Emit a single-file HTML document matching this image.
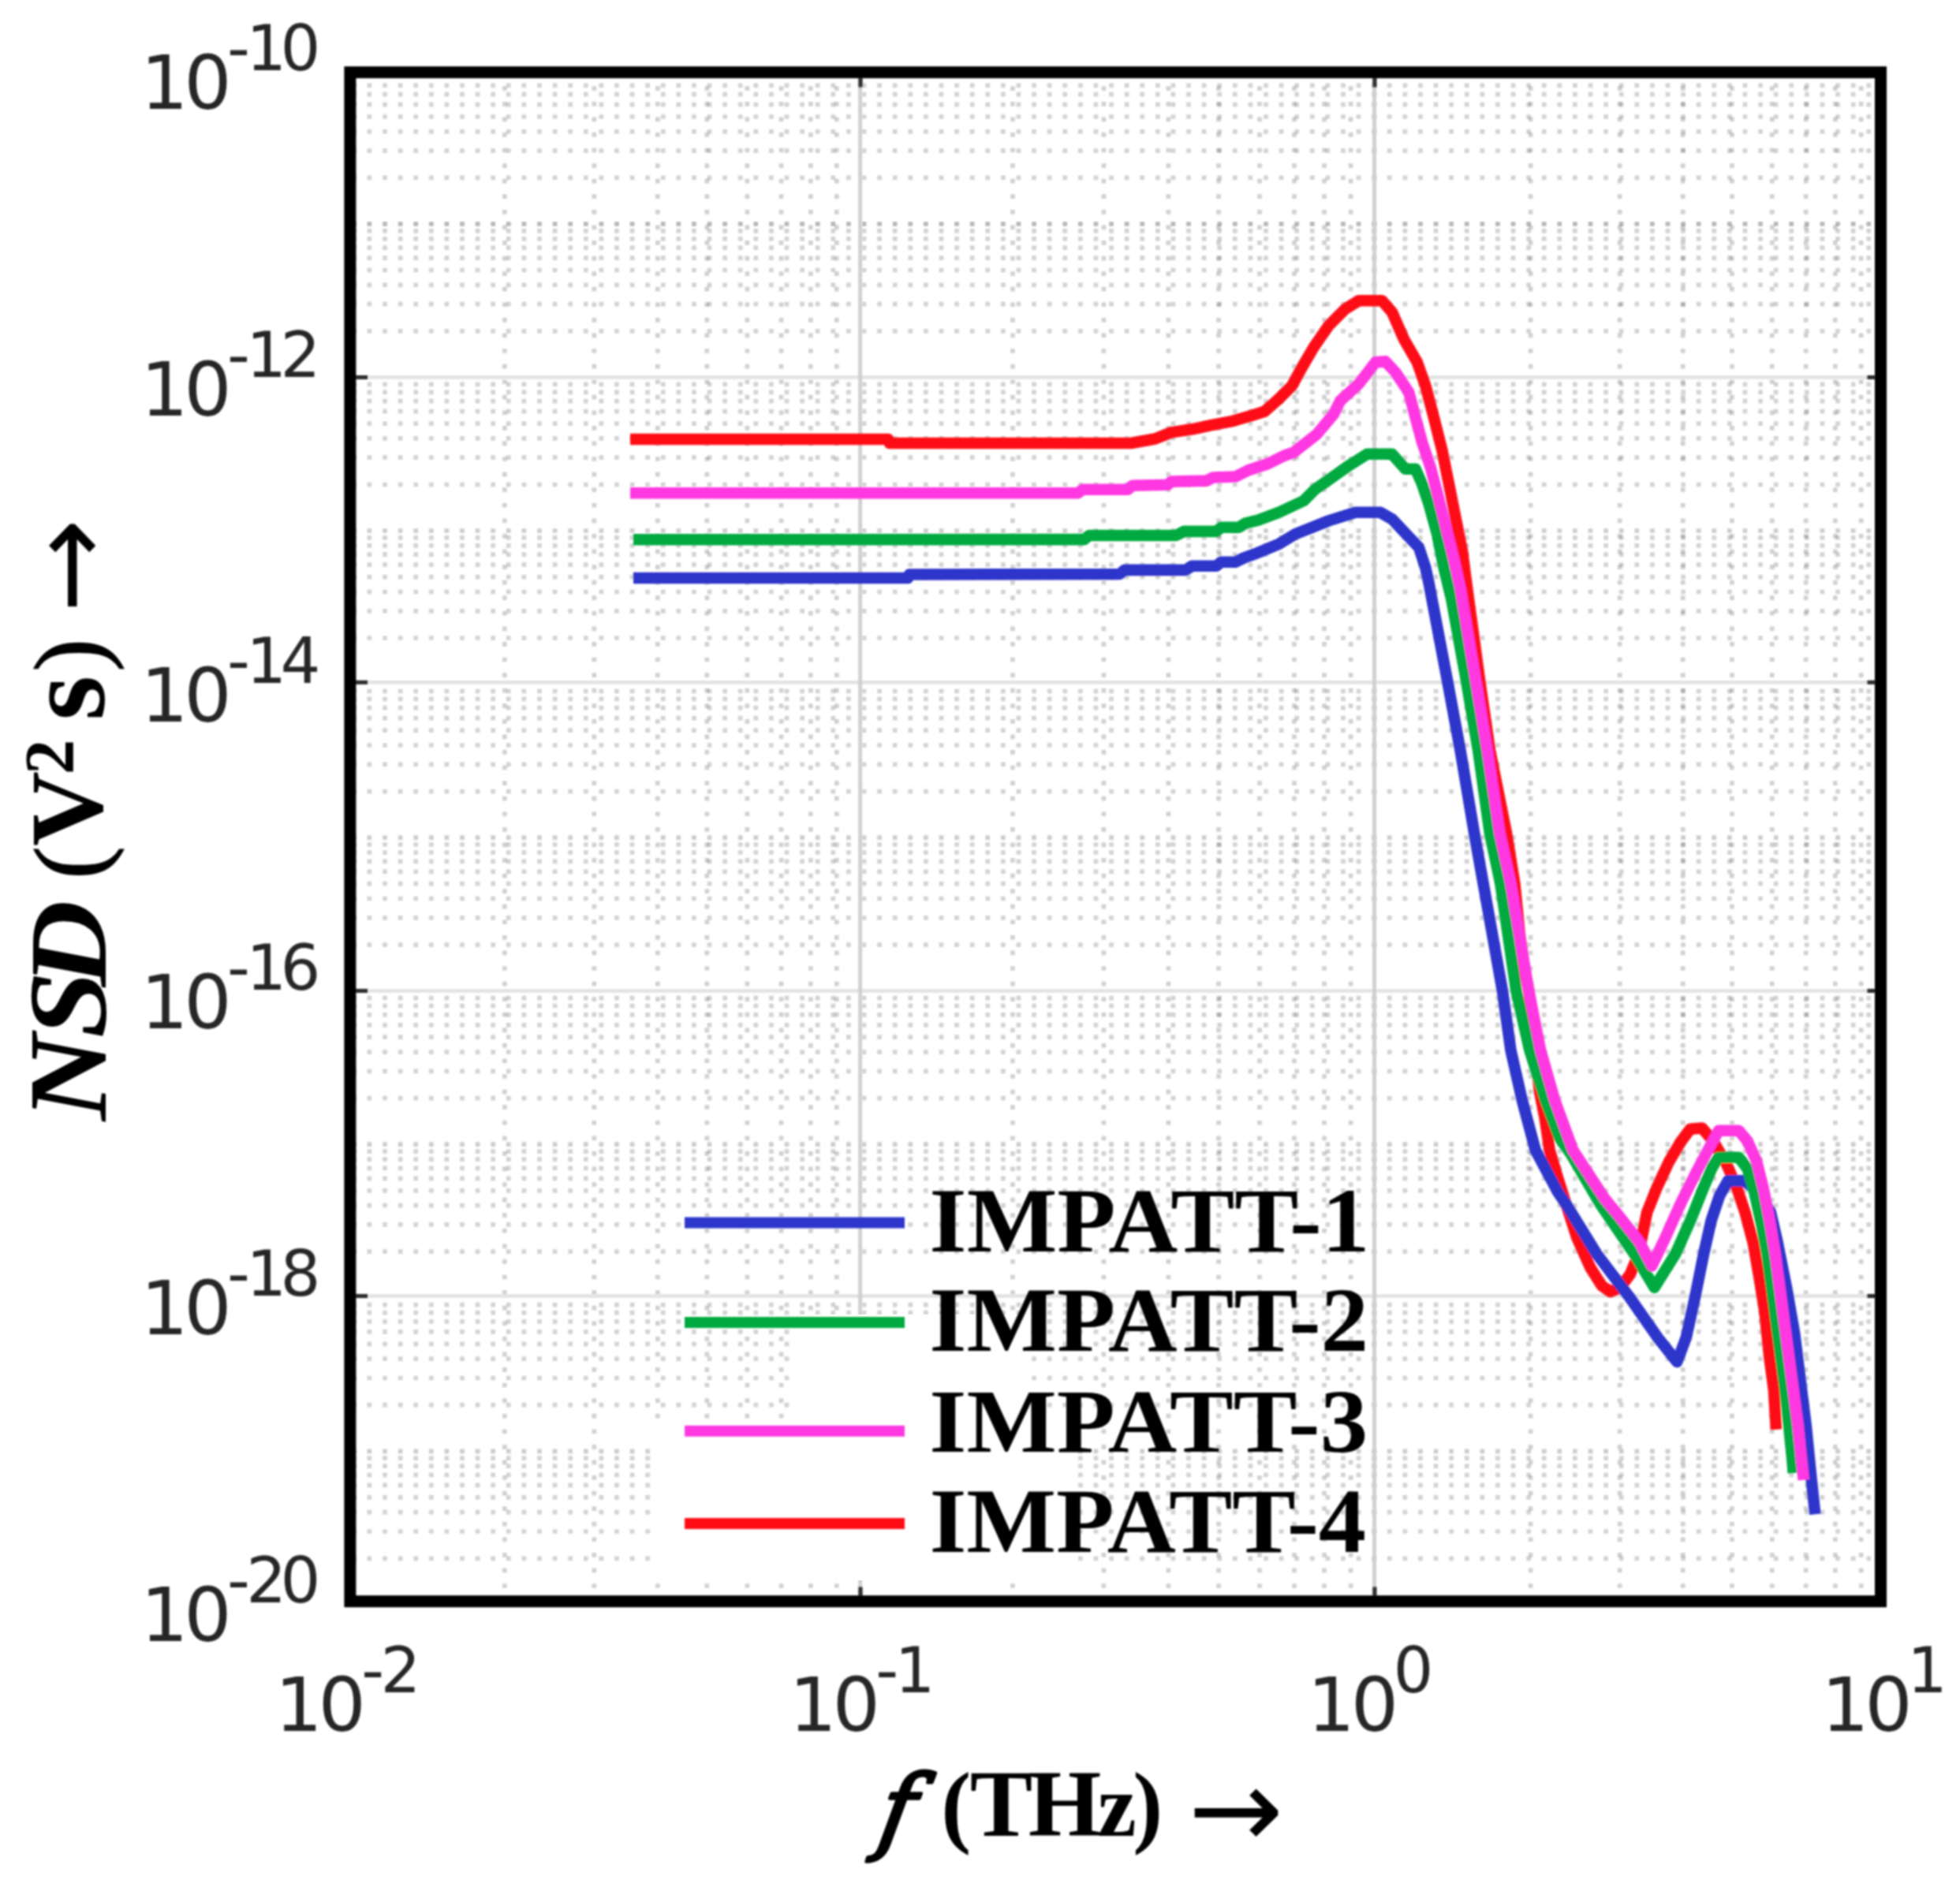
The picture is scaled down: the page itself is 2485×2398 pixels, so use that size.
<!DOCTYPE html>
<html lang="en"><head><meta charset="utf-8"><title>NSD vs f</title>
<style>html,body{margin:0;padding:0;background:#fff}svg{display:block}.tk{font-family:"DejaVu Sans","Liberation Sans",sans-serif;fill:#262626}.sb{font-family:"Liberation Serif",serif;font-weight:bold;fill:#000}.sbi{font-family:"Liberation Serif",serif;font-weight:bold;font-style:italic;fill:#000}.ar{font-family:"DejaVu Sans",sans-serif;fill:#000}.sr{font-family:"Liberation Serif",serif;fill:#000}.fi{font-family:"DejaVu Serif","Liberation Serif",serif;font-style:italic;fill:#000}.fbi{font-family:"DejaVu Serif","Liberation Serif",serif;font-weight:bold;font-style:italic;fill:#000}</style></head><body>
<svg width="2485" height="2398" viewBox="0 0 2485 2398" role="img" aria-label="NSD versus frequency for IMPATT-1 to IMPATT-4">
<defs><filter id="b1" x="-5%" y="-5%" width="110%" height="110%"><feGaussianBlur stdDeviation="1.1"/></filter><filter id="b2" x="-5%" y="-5%" width="110%" height="110%"><feGaussianBlur stdDeviation="1.6"/></filter><clipPath id="pc"><rect x="443.9" y="91.7" width="1940.6" height="1939.0"/></clipPath></defs>
<rect width="2485" height="2398" fill="#fff"/>
<g clip-path="url(#pc)"><g filter="url(#b1)">
<line x1="426.36" y1="1976.3" x2="2384.5" y2="1976.3" stroke="#000" stroke-opacity="0.175" stroke-width="5.7" stroke-dasharray="5.7 13.896"/>
<line x1="426.36" y1="1942.0" x2="2384.5" y2="1942.0" stroke="#000" stroke-opacity="0.175" stroke-width="5.7" stroke-dasharray="5.7 13.896"/>
<line x1="426.36" y1="1917.7" x2="2384.5" y2="1917.7" stroke="#000" stroke-opacity="0.175" stroke-width="5.7" stroke-dasharray="5.7 13.896"/>
<line x1="426.36" y1="1898.8" x2="2384.5" y2="1898.8" stroke="#000" stroke-opacity="0.175" stroke-width="5.7" stroke-dasharray="5.7 13.896"/>
<line x1="426.36" y1="1883.4" x2="2384.5" y2="1883.4" stroke="#000" stroke-opacity="0.175" stroke-width="5.7" stroke-dasharray="5.7 13.896"/>
<line x1="426.36" y1="1870.4" x2="2384.5" y2="1870.4" stroke="#000" stroke-opacity="0.175" stroke-width="5.7" stroke-dasharray="5.7 13.896"/>
<line x1="426.36" y1="1859.1" x2="2384.5" y2="1859.1" stroke="#000" stroke-opacity="0.175" stroke-width="5.7" stroke-dasharray="5.7 13.896"/>
<line x1="426.36" y1="1849.2" x2="2384.5" y2="1849.2" stroke="#000" stroke-opacity="0.175" stroke-width="5.7" stroke-dasharray="5.7 13.896"/>
<line x1="426.36" y1="1840.3" x2="2384.5" y2="1840.3" stroke="#000" stroke-opacity="0.2" stroke-width="5.7" stroke-dasharray="5.7 13.896"/>
<line x1="426.36" y1="1781.7" x2="2384.5" y2="1781.7" stroke="#000" stroke-opacity="0.175" stroke-width="5.7" stroke-dasharray="5.7 13.896"/>
<line x1="426.36" y1="1747.5" x2="2384.5" y2="1747.5" stroke="#000" stroke-opacity="0.175" stroke-width="5.7" stroke-dasharray="5.7 13.896"/>
<line x1="426.36" y1="1723.2" x2="2384.5" y2="1723.2" stroke="#000" stroke-opacity="0.175" stroke-width="5.7" stroke-dasharray="5.7 13.896"/>
<line x1="426.36" y1="1704.3" x2="2384.5" y2="1704.3" stroke="#000" stroke-opacity="0.175" stroke-width="5.7" stroke-dasharray="5.7 13.896"/>
<line x1="426.36" y1="1688.9" x2="2384.5" y2="1688.9" stroke="#000" stroke-opacity="0.175" stroke-width="5.7" stroke-dasharray="5.7 13.896"/>
<line x1="426.36" y1="1675.9" x2="2384.5" y2="1675.9" stroke="#000" stroke-opacity="0.175" stroke-width="5.7" stroke-dasharray="5.7 13.896"/>
<line x1="426.36" y1="1664.6" x2="2384.5" y2="1664.6" stroke="#000" stroke-opacity="0.175" stroke-width="5.7" stroke-dasharray="5.7 13.896"/>
<line x1="426.36" y1="1654.6" x2="2384.5" y2="1654.6" stroke="#000" stroke-opacity="0.175" stroke-width="5.7" stroke-dasharray="5.7 13.896"/>
<line x1="426.36" y1="1587.2" x2="2384.5" y2="1587.2" stroke="#000" stroke-opacity="0.175" stroke-width="5.7" stroke-dasharray="5.7 13.896"/>
<line x1="426.36" y1="1552.9" x2="2384.5" y2="1552.9" stroke="#000" stroke-opacity="0.175" stroke-width="5.7" stroke-dasharray="5.7 13.896"/>
<line x1="426.36" y1="1528.6" x2="2384.5" y2="1528.6" stroke="#000" stroke-opacity="0.175" stroke-width="5.7" stroke-dasharray="5.7 13.896"/>
<line x1="426.36" y1="1509.8" x2="2384.5" y2="1509.8" stroke="#000" stroke-opacity="0.175" stroke-width="5.7" stroke-dasharray="5.7 13.896"/>
<line x1="426.36" y1="1494.4" x2="2384.5" y2="1494.4" stroke="#000" stroke-opacity="0.175" stroke-width="5.7" stroke-dasharray="5.7 13.896"/>
<line x1="426.36" y1="1481.3" x2="2384.5" y2="1481.3" stroke="#000" stroke-opacity="0.175" stroke-width="5.7" stroke-dasharray="5.7 13.896"/>
<line x1="426.36" y1="1470.1" x2="2384.5" y2="1470.1" stroke="#000" stroke-opacity="0.175" stroke-width="5.7" stroke-dasharray="5.7 13.896"/>
<line x1="426.36" y1="1460.1" x2="2384.5" y2="1460.1" stroke="#000" stroke-opacity="0.175" stroke-width="5.7" stroke-dasharray="5.7 13.896"/>
<line x1="426.36" y1="1451.2" x2="2384.5" y2="1451.2" stroke="#000" stroke-opacity="0.2" stroke-width="5.7" stroke-dasharray="5.7 13.896"/>
<line x1="426.36" y1="1392.6" x2="2384.5" y2="1392.6" stroke="#000" stroke-opacity="0.175" stroke-width="5.7" stroke-dasharray="5.7 13.896"/>
<line x1="426.36" y1="1358.4" x2="2384.5" y2="1358.4" stroke="#000" stroke-opacity="0.175" stroke-width="5.7" stroke-dasharray="5.7 13.896"/>
<line x1="426.36" y1="1334.1" x2="2384.5" y2="1334.1" stroke="#000" stroke-opacity="0.175" stroke-width="5.7" stroke-dasharray="5.7 13.896"/>
<line x1="426.36" y1="1315.2" x2="2384.5" y2="1315.2" stroke="#000" stroke-opacity="0.175" stroke-width="5.7" stroke-dasharray="5.7 13.896"/>
<line x1="426.36" y1="1299.8" x2="2384.5" y2="1299.8" stroke="#000" stroke-opacity="0.175" stroke-width="5.7" stroke-dasharray="5.7 13.896"/>
<line x1="426.36" y1="1286.8" x2="2384.5" y2="1286.8" stroke="#000" stroke-opacity="0.175" stroke-width="5.7" stroke-dasharray="5.7 13.896"/>
<line x1="426.36" y1="1275.5" x2="2384.5" y2="1275.5" stroke="#000" stroke-opacity="0.175" stroke-width="5.7" stroke-dasharray="5.7 13.896"/>
<line x1="426.36" y1="1265.6" x2="2384.5" y2="1265.6" stroke="#000" stroke-opacity="0.175" stroke-width="5.7" stroke-dasharray="5.7 13.896"/>
<line x1="426.36" y1="1198.1" x2="2384.5" y2="1198.1" stroke="#000" stroke-opacity="0.175" stroke-width="5.7" stroke-dasharray="5.7 13.896"/>
<line x1="426.36" y1="1163.8" x2="2384.5" y2="1163.8" stroke="#000" stroke-opacity="0.175" stroke-width="5.7" stroke-dasharray="5.7 13.896"/>
<line x1="426.36" y1="1139.5" x2="2384.5" y2="1139.5" stroke="#000" stroke-opacity="0.175" stroke-width="5.7" stroke-dasharray="5.7 13.896"/>
<line x1="426.36" y1="1120.7" x2="2384.5" y2="1120.7" stroke="#000" stroke-opacity="0.175" stroke-width="5.7" stroke-dasharray="5.7 13.896"/>
<line x1="426.36" y1="1105.3" x2="2384.5" y2="1105.3" stroke="#000" stroke-opacity="0.175" stroke-width="5.7" stroke-dasharray="5.7 13.896"/>
<line x1="426.36" y1="1092.3" x2="2384.5" y2="1092.3" stroke="#000" stroke-opacity="0.175" stroke-width="5.7" stroke-dasharray="5.7 13.896"/>
<line x1="426.36" y1="1081.0" x2="2384.5" y2="1081.0" stroke="#000" stroke-opacity="0.175" stroke-width="5.7" stroke-dasharray="5.7 13.896"/>
<line x1="426.36" y1="1071.0" x2="2384.5" y2="1071.0" stroke="#000" stroke-opacity="0.175" stroke-width="5.7" stroke-dasharray="5.7 13.896"/>
<line x1="426.36" y1="1062.1" x2="2384.5" y2="1062.1" stroke="#000" stroke-opacity="0.2" stroke-width="5.7" stroke-dasharray="5.7 13.896"/>
<line x1="426.36" y1="1003.6" x2="2384.5" y2="1003.6" stroke="#000" stroke-opacity="0.175" stroke-width="5.7" stroke-dasharray="5.7 13.896"/>
<line x1="426.36" y1="969.3" x2="2384.5" y2="969.3" stroke="#000" stroke-opacity="0.175" stroke-width="5.7" stroke-dasharray="5.7 13.896"/>
<line x1="426.36" y1="945.0" x2="2384.5" y2="945.0" stroke="#000" stroke-opacity="0.175" stroke-width="5.7" stroke-dasharray="5.7 13.896"/>
<line x1="426.36" y1="926.1" x2="2384.5" y2="926.1" stroke="#000" stroke-opacity="0.175" stroke-width="5.7" stroke-dasharray="5.7 13.896"/>
<line x1="426.36" y1="910.7" x2="2384.5" y2="910.7" stroke="#000" stroke-opacity="0.175" stroke-width="5.7" stroke-dasharray="5.7 13.896"/>
<line x1="426.36" y1="897.7" x2="2384.5" y2="897.7" stroke="#000" stroke-opacity="0.175" stroke-width="5.7" stroke-dasharray="5.7 13.896"/>
<line x1="426.36" y1="886.4" x2="2384.5" y2="886.4" stroke="#000" stroke-opacity="0.175" stroke-width="5.7" stroke-dasharray="5.7 13.896"/>
<line x1="426.36" y1="876.5" x2="2384.5" y2="876.5" stroke="#000" stroke-opacity="0.175" stroke-width="5.7" stroke-dasharray="5.7 13.896"/>
<line x1="426.36" y1="809.0" x2="2384.5" y2="809.0" stroke="#000" stroke-opacity="0.175" stroke-width="5.7" stroke-dasharray="5.7 13.896"/>
<line x1="426.36" y1="774.8" x2="2384.5" y2="774.8" stroke="#000" stroke-opacity="0.175" stroke-width="5.7" stroke-dasharray="5.7 13.896"/>
<line x1="426.36" y1="750.5" x2="2384.5" y2="750.5" stroke="#000" stroke-opacity="0.175" stroke-width="5.7" stroke-dasharray="5.7 13.896"/>
<line x1="426.36" y1="731.6" x2="2384.5" y2="731.6" stroke="#000" stroke-opacity="0.175" stroke-width="5.7" stroke-dasharray="5.7 13.896"/>
<line x1="426.36" y1="716.2" x2="2384.5" y2="716.2" stroke="#000" stroke-opacity="0.175" stroke-width="5.7" stroke-dasharray="5.7 13.896"/>
<line x1="426.36" y1="703.2" x2="2384.5" y2="703.2" stroke="#000" stroke-opacity="0.175" stroke-width="5.7" stroke-dasharray="5.7 13.896"/>
<line x1="426.36" y1="691.9" x2="2384.5" y2="691.9" stroke="#000" stroke-opacity="0.175" stroke-width="5.7" stroke-dasharray="5.7 13.896"/>
<line x1="426.36" y1="681.9" x2="2384.5" y2="681.9" stroke="#000" stroke-opacity="0.175" stroke-width="5.7" stroke-dasharray="5.7 13.896"/>
<line x1="426.36" y1="673.0" x2="2384.5" y2="673.0" stroke="#000" stroke-opacity="0.2" stroke-width="5.7" stroke-dasharray="5.7 13.896"/>
<line x1="426.36" y1="614.5" x2="2384.5" y2="614.5" stroke="#000" stroke-opacity="0.175" stroke-width="5.7" stroke-dasharray="5.7 13.896"/>
<line x1="426.36" y1="580.2" x2="2384.5" y2="580.2" stroke="#000" stroke-opacity="0.175" stroke-width="5.7" stroke-dasharray="5.7 13.896"/>
<line x1="426.36" y1="555.9" x2="2384.5" y2="555.9" stroke="#000" stroke-opacity="0.175" stroke-width="5.7" stroke-dasharray="5.7 13.896"/>
<line x1="426.36" y1="537.1" x2="2384.5" y2="537.1" stroke="#000" stroke-opacity="0.175" stroke-width="5.7" stroke-dasharray="5.7 13.896"/>
<line x1="426.36" y1="521.7" x2="2384.5" y2="521.7" stroke="#000" stroke-opacity="0.175" stroke-width="5.7" stroke-dasharray="5.7 13.896"/>
<line x1="426.36" y1="508.6" x2="2384.5" y2="508.6" stroke="#000" stroke-opacity="0.175" stroke-width="5.7" stroke-dasharray="5.7 13.896"/>
<line x1="426.36" y1="497.4" x2="2384.5" y2="497.4" stroke="#000" stroke-opacity="0.175" stroke-width="5.7" stroke-dasharray="5.7 13.896"/>
<line x1="426.36" y1="487.4" x2="2384.5" y2="487.4" stroke="#000" stroke-opacity="0.175" stroke-width="5.7" stroke-dasharray="5.7 13.896"/>
<line x1="426.36" y1="419.9" x2="2384.5" y2="419.9" stroke="#000" stroke-opacity="0.175" stroke-width="5.7" stroke-dasharray="5.7 13.896"/>
<line x1="426.36" y1="385.7" x2="2384.5" y2="385.7" stroke="#000" stroke-opacity="0.175" stroke-width="5.7" stroke-dasharray="5.7 13.896"/>
<line x1="426.36" y1="361.4" x2="2384.5" y2="361.4" stroke="#000" stroke-opacity="0.175" stroke-width="5.7" stroke-dasharray="5.7 13.896"/>
<line x1="426.36" y1="342.5" x2="2384.5" y2="342.5" stroke="#000" stroke-opacity="0.175" stroke-width="5.7" stroke-dasharray="5.7 13.896"/>
<line x1="426.36" y1="327.1" x2="2384.5" y2="327.1" stroke="#000" stroke-opacity="0.175" stroke-width="5.7" stroke-dasharray="5.7 13.896"/>
<line x1="426.36" y1="314.1" x2="2384.5" y2="314.1" stroke="#000" stroke-opacity="0.175" stroke-width="5.7" stroke-dasharray="5.7 13.896"/>
<line x1="426.36" y1="302.8" x2="2384.5" y2="302.8" stroke="#000" stroke-opacity="0.175" stroke-width="5.7" stroke-dasharray="5.7 13.896"/>
<line x1="426.36" y1="292.9" x2="2384.5" y2="292.9" stroke="#000" stroke-opacity="0.175" stroke-width="5.7" stroke-dasharray="5.7 13.896"/>
<line x1="426.36" y1="284.0" x2="2384.5" y2="284.0" stroke="#000" stroke-opacity="0.29" stroke-width="5.7" stroke-dasharray="5.7 13.896"/>
<line x1="426.36" y1="225.4" x2="2384.5" y2="225.4" stroke="#000" stroke-opacity="0.175" stroke-width="5.7" stroke-dasharray="5.7 13.896"/>
<line x1="426.36" y1="191.1" x2="2384.5" y2="191.1" stroke="#000" stroke-opacity="0.175" stroke-width="5.7" stroke-dasharray="5.7 13.896"/>
<line x1="426.36" y1="166.8" x2="2384.5" y2="166.8" stroke="#000" stroke-opacity="0.175" stroke-width="5.7" stroke-dasharray="5.7 13.896"/>
<line x1="426.36" y1="148.0" x2="2384.5" y2="148.0" stroke="#000" stroke-opacity="0.175" stroke-width="5.7" stroke-dasharray="5.7 13.896"/>
<line x1="426.36" y1="132.6" x2="2384.5" y2="132.6" stroke="#000" stroke-opacity="0.175" stroke-width="5.7" stroke-dasharray="5.7 13.896"/>
<line x1="426.36" y1="119.6" x2="2384.5" y2="119.6" stroke="#000" stroke-opacity="0.175" stroke-width="5.7" stroke-dasharray="5.7 13.896"/>
<line x1="426.36" y1="108.3" x2="2384.5" y2="108.3" stroke="#000" stroke-opacity="0.175" stroke-width="5.7" stroke-dasharray="5.7 13.896"/>
<line x1="639.8" y1="70.20" x2="639.8" y2="2030.7" stroke="#000" stroke-opacity="0.185" stroke-width="5.7" stroke-dasharray="5.7 13.875"/>
<line x1="753.3" y1="70.20" x2="753.3" y2="2030.7" stroke="#000" stroke-opacity="0.185" stroke-width="5.7" stroke-dasharray="5.7 13.875"/>
<line x1="833.8" y1="70.20" x2="833.8" y2="2030.7" stroke="#000" stroke-opacity="0.185" stroke-width="5.7" stroke-dasharray="5.7 13.875"/>
<line x1="896.3" y1="70.20" x2="896.3" y2="2030.7" stroke="#000" stroke-opacity="0.185" stroke-width="5.7" stroke-dasharray="5.7 13.875"/>
<line x1="947.3" y1="70.20" x2="947.3" y2="2030.7" stroke="#000" stroke-opacity="0.185" stroke-width="5.7" stroke-dasharray="5.7 13.875"/>
<line x1="990.5" y1="70.20" x2="990.5" y2="2030.7" stroke="#000" stroke-opacity="0.185" stroke-width="5.7" stroke-dasharray="5.7 13.875"/>
<line x1="1027.8" y1="70.20" x2="1027.8" y2="2030.7" stroke="#000" stroke-opacity="0.185" stroke-width="5.7" stroke-dasharray="5.7 13.875"/>
<line x1="1060.8" y1="70.20" x2="1060.8" y2="2030.7" stroke="#000" stroke-opacity="0.185" stroke-width="5.7" stroke-dasharray="5.7 13.875"/>
<line x1="1283.9" y1="70.20" x2="1283.9" y2="2030.7" stroke="#000" stroke-opacity="0.185" stroke-width="5.7" stroke-dasharray="5.7 13.875"/>
<line x1="1399.4" y1="70.20" x2="1399.4" y2="2030.7" stroke="#000" stroke-opacity="0.185" stroke-width="5.7" stroke-dasharray="5.7 13.875"/>
<line x1="1481.4" y1="70.20" x2="1481.4" y2="2030.7" stroke="#000" stroke-opacity="0.185" stroke-width="5.7" stroke-dasharray="5.7 13.875"/>
<line x1="1545.0" y1="70.20" x2="1545.0" y2="2030.7" stroke="#000" stroke-opacity="0.185" stroke-width="5.7" stroke-dasharray="5.7 13.875"/>
<line x1="1597.0" y1="70.20" x2="1597.0" y2="2030.7" stroke="#000" stroke-opacity="0.185" stroke-width="5.7" stroke-dasharray="5.7 13.875"/>
<line x1="1640.9" y1="70.20" x2="1640.9" y2="2030.7" stroke="#000" stroke-opacity="0.185" stroke-width="5.7" stroke-dasharray="5.7 13.875"/>
<line x1="1679.0" y1="70.20" x2="1679.0" y2="2030.7" stroke="#000" stroke-opacity="0.185" stroke-width="5.7" stroke-dasharray="5.7 13.875"/>
<line x1="1712.6" y1="70.20" x2="1712.6" y2="2030.7" stroke="#000" stroke-opacity="0.185" stroke-width="5.7" stroke-dasharray="5.7 13.875"/>
<line x1="1940.6" y1="70.20" x2="1940.6" y2="2030.7" stroke="#000" stroke-opacity="0.185" stroke-width="5.7" stroke-dasharray="5.7 13.875"/>
<line x1="2053.6" y1="70.20" x2="2053.6" y2="2030.7" stroke="#000" stroke-opacity="0.185" stroke-width="5.7" stroke-dasharray="5.7 13.875"/>
<line x1="2133.7" y1="70.20" x2="2133.7" y2="2030.7" stroke="#000" stroke-opacity="0.185" stroke-width="5.7" stroke-dasharray="5.7 13.875"/>
<line x1="2195.9" y1="70.20" x2="2195.9" y2="2030.7" stroke="#000" stroke-opacity="0.185" stroke-width="5.7" stroke-dasharray="5.7 13.875"/>
<line x1="2246.7" y1="70.20" x2="2246.7" y2="2030.7" stroke="#000" stroke-opacity="0.185" stroke-width="5.7" stroke-dasharray="5.7 13.875"/>
<line x1="2289.6" y1="70.20" x2="2289.6" y2="2030.7" stroke="#000" stroke-opacity="0.185" stroke-width="5.7" stroke-dasharray="5.7 13.875"/>
<line x1="2326.8" y1="70.20" x2="2326.8" y2="2030.7" stroke="#000" stroke-opacity="0.185" stroke-width="5.7" stroke-dasharray="5.7 13.875"/>
<line x1="2359.6" y1="70.20" x2="2359.6" y2="2030.7" stroke="#000" stroke-opacity="0.185" stroke-width="5.7" stroke-dasharray="5.7 13.875"/>
</g>
<g filter="url(#b1)" stroke="#e2e2e2" stroke-width="4.4">
<line x1="443.9" y1="478.5" x2="2384.5" y2="478.5"/>
<line x1="443.9" y1="865.3" x2="2384.5" y2="865.3"/>
<line x1="443.9" y1="1256.5" x2="2384.5" y2="1256.5"/>
<line x1="443.9" y1="1643.5" x2="2384.5" y2="1643.5"/>
<line x1="1090.6" y1="91.7" x2="1090.6" y2="2030.7" stroke="#d0d0d0" stroke-width="5"/>
<line x1="1742.5" y1="91.7" x2="1742.5" y2="2030.7" stroke="#d0d0d0" stroke-width="5"/>
</g>
<g fill="#fff">
<rect x="1003" y="1667" width="304" height="146"/>
<rect x="1003" y="1800" width="360" height="204"/>
<rect x="826" y="1802" width="180" height="202"/>
</g>
</g>
<g filter="url(#b1)">
<polyline points="799.0,557.0 1126.0,557.0 1128.0,562.0 1433.9,562.0 1464.5,556.5 1484.9,548.4 1511.4,544.3 1535.9,539.2 1562.4,534.1 1586.9,526.9 1603.3,521.8 1621.2,506.0 1638.1,489.1 1650.8,465.8 1665.6,440.4 1684.6,412.9 1705.8,391.7 1722.7,381.2 1752.3,381.2 1765.0,396.0 1779.8,429.8 1796.8,459.4 1807.3,489.1 1817.9,529.3 1828.5,571.6 1837.0,613.9 1845.4,656.2 1853.9,698.5 1859.3,740.0 1876.3,864.8 1889.0,951.6 1910.1,1057.3 1920.3,1120.0 1926.6,1183.5 1934.0,1236.4 1938.3,1256.5 1952.0,1384.5 1958.4,1416.2 1964.7,1458.5 1973.9,1490.0 1985.5,1526.9 1999.2,1569.3 2016.2,1607.3 2031.0,1630.6 2041.6,1638.0 2054.2,1632.7 2066.9,1615.8 2077.5,1590.4 2088.1,1537.5 2100.8,1505.8 2115.6,1474.0 2130.4,1448.7 2143.1,1431.7 2158.0,1430.5 2172.0,1447.0 2189.4,1477.0 2202.5,1507.6 2212.7,1538.0 2222.8,1576.0 2230.1,1618.0 2237.4,1663.0 2243.2,1719.8 2249.0,1763.4 2251.9,1812.8" fill="none" stroke="#fe0716" stroke-width="14.6" stroke-linejoin="round" stroke-linecap="butt"/>
<polyline points="803.0,733.0 1151.0,733.0 1153.0,728.5 1419.6,728.0 1425.7,722.9 1503.3,722.9 1511.4,717.8 1542.0,717.8 1548.2,712.7 1566.5,712.7 1576.7,707.6 1591.0,702.4 1621.2,690.0 1642.3,677.3 1684.6,660.4 1718.5,649.8 1750.2,649.8 1765.0,658.3 1798.9,694.3 1807.3,719.7 1811.7,740.0 1835.4,864.8 1851.5,951.6 1869.3,1057.3 1880.5,1120.0 1904.9,1256.5 1915.4,1331.6 1929.8,1395.0 1946.7,1458.5 1975.3,1512.0 1985.5,1526.9 2024.6,1590.4 2064.8,1643.3 2101.8,1696.2 2126.2,1727.0 2137.8,1696.2 2149.4,1643.3 2160.0,1590.4 2169.5,1548.1 2180.1,1516.4 2190.9,1497.4 2211.2,1497.4 2228.0,1510.0 2244.7,1536.6 2253.4,1574.4 2265.0,1632.6 2275.2,1690.7 2282.4,1748.8 2289.7,1807.0 2295.5,1865.1 2301.3,1920.3" fill="none" stroke="#2d36cb" stroke-width="14.6" stroke-linejoin="round" stroke-linecap="butt"/>
<polyline points="803.0,684.3 1374.7,684.1 1380.8,679.0 1491.0,679.0 1501.2,673.9 1542.0,673.9 1548.2,668.8 1570.6,668.8 1578.8,663.7 1595.1,659.6 1621.2,649.8 1652.9,635.0 1667.7,620.2 1688.9,605.4 1710.0,590.6 1733.3,575.8 1765.0,575.8 1781.9,594.8 1794.6,594.8 1803.1,613.9 1811.6,639.3 1822.1,677.4 1830.6,719.7 1840.3,760.0 1859.3,864.8 1874.1,951.6 1889.0,1057.3 1902.3,1120.0 1922.4,1256.5 1939.3,1331.6 1959.4,1395.0 1977.4,1443.0 1991.8,1463.5 2028.9,1526.9 2072.2,1590.4 2097.6,1632.7 2124.1,1590.4 2143.1,1548.1 2160.0,1505.8 2171.0,1480.0 2179.0,1467.7 2204.5,1467.7 2215.6,1482.0 2224.3,1512.0 2233.0,1551.2 2240.3,1589.0 2246.1,1632.6 2251.9,1676.2 2257.7,1719.8 2263.5,1763.4 2267.9,1807.0 2272.3,1850.6 2273.7,1868.0" fill="none" stroke="#00aa40" stroke-width="14.6" stroke-linejoin="round" stroke-linecap="butt"/>
<polyline points="799.0,625.3 1366.5,625.3 1372.7,620.8 1429.8,620.8 1435.9,615.7 1480.8,614.7 1484.9,610.6 1529.8,609.6 1538.0,605.5 1566.5,604.5 1582.9,596.3 1607.3,588.2 1627.8,578.0 1640.2,573.7 1669.8,550.4 1691.0,525.0 1699.4,508.1 1722.7,486.9 1743.9,459.4 1756.6,458.4 1769.3,472.1 1786.2,497.5 1794.6,529.3 1803.1,561.0 1813.7,592.7 1822.1,624.5 1832.7,666.8 1843.3,709.1 1851.3,745.0 1871.4,864.8 1885.8,951.6 1901.6,1057.3 1915.4,1120.0 1938.3,1256.5 1953.1,1331.6 1971.1,1395.0 1994.3,1458.5 2034.5,1520.0 2051.1,1540.0 2078.6,1575.0 2094.4,1605.2 2111.4,1569.3 2130.4,1526.9 2151.6,1484.6 2168.5,1452.9 2179.0,1433.8 2204.5,1433.8 2215.6,1447.0 2227.2,1473.0 2235.9,1508.0 2243.2,1545.3 2250.5,1589.0 2256.3,1632.6 2262.1,1676.2 2267.9,1719.8 2273.7,1763.4 2279.5,1807.0 2283.9,1850.6 2286.8,1876.7" fill="none" stroke="#ff38e2" stroke-width="14.6" stroke-linejoin="round" stroke-linecap="butt"/>
<line x1="868" y1="1550.4" x2="1147" y2="1550.4" stroke="#2d36cb" stroke-width="14"/>
<line x1="868" y1="1677.1" x2="1147" y2="1677.1" stroke="#00aa40" stroke-width="14"/>
<line x1="868" y1="1814.7" x2="1147" y2="1814.7" stroke="#ff38e2" stroke-width="14"/>
<line x1="868" y1="1932" x2="1147" y2="1932" stroke="#fe0716" stroke-width="14"/>
</g>
<g filter="url(#b1)">
<g stroke="#2e2e2e" stroke-width="5">
<line x1="443.9" y1="478.5" x2="466" y2="478.5"/>
<line x1="2384.5" y1="478.5" x2="2367.5" y2="478.5"/>
<line x1="443.9" y1="865.3" x2="466" y2="865.3"/>
<line x1="2384.5" y1="865.3" x2="2367.5" y2="865.3"/>
<line x1="443.9" y1="1256.5" x2="466" y2="1256.5"/>
<line x1="2384.5" y1="1256.5" x2="2367.5" y2="1256.5"/>
<line x1="443.9" y1="1643.5" x2="466" y2="1643.5"/>
<line x1="2384.5" y1="1643.5" x2="2367.5" y2="1643.5"/>
<line x1="1091.0" y1="91.7" x2="1091.0" y2="110.5"/>
<line x1="1091.0" y1="2030.7" x2="1091.0" y2="2012.5"/>
<line x1="1742.9" y1="91.7" x2="1742.9" y2="110.5"/>
<line x1="1742.9" y1="2030.7" x2="1742.9" y2="2012.5"/>
</g>
<rect x="443.9" y="91.7" width="1940.6" height="1939.0" fill="none" stroke="#000" stroke-width="15.0"/>
</g>
<g class="tk" filter="url(#b1)">
<text font-size="95"><tspan x="178.2 233.2" y="138.3">10</tspan><tspan font-size="80" x="287.9 312.2 355.4" y="89.3">-10</tspan></text>
<text font-size="95"><tspan x="178.2 233.2" y="526.8">10</tspan><tspan font-size="80" x="287.9 312.2 355.4" y="477.8">-12</tspan></text>
<text font-size="95"><tspan x="178.2 233.2" y="915.3">10</tspan><tspan font-size="80" x="287.9 312.2 355.4" y="866.3">-14</tspan></text>
<text font-size="95"><tspan x="178.2 233.2" y="1303.8">10</tspan><tspan font-size="80" x="287.9 312.2 355.4" y="1254.8">-16</tspan></text>
<text font-size="95"><tspan x="178.2 233.2" y="1692.3">10</tspan><tspan font-size="80" x="287.9 312.2 355.4" y="1643.3">-18</tspan></text>
<text font-size="95"><tspan x="178.2 233.2" y="2080.8">10</tspan><tspan font-size="80" x="287.9 312.2 355.4" y="2031.8">-20</tspan></text>
<text font-size="95"><tspan x="348.4 403.5" y="2194.7">10</tspan><tspan font-size="80" x="458.2 482.5" y="2145.7">-2</tspan></text>
<text font-size="95"><tspan x="1000.4 1055.5" y="2194.7">10</tspan><tspan font-size="80" x="1110.2 1134.5" y="2145.7">-1</tspan></text>
<text font-size="95"><tspan x="1657.6 1712.7" y="2194.7">10</tspan><tspan font-size="80" x="1766.5" y="2145.7">0</tspan></text>
<text font-size="95"><tspan x="2309.2 2364.3" y="2194.7">10</tspan><tspan font-size="80" x="2418.1" y="2145.7">1</tspan></text>
</g>
<g filter="url(#b1)">
<text class="sb" font-size="100" transform="translate(1178.35,1587.00) scale(1.2151,1.1591)">IMPATT-1</text>
<text class="sb" font-size="100" transform="translate(1178.36,1713.30) scale(1.2124,1.1547)">IMPATT-2</text>
<text class="sb" font-size="100" transform="translate(1178.37,1841.25) scale(1.2104,1.1524)">IMPATT-3</text>
<text class="sb" font-size="100" transform="translate(1178.38,1968.20) scale(1.2057,1.1591)">IMPATT-4</text>
</g>
<g filter="url(#b1)">
<text class="fi" font-size="100" transform="translate(1110.0,2336.0) skewX(-10) scale(1.17,1.189)" stroke="#000" stroke-width="3.6" stroke-linejoin="round">f</text>
<text transform="translate(1194.50,2327.80) scale(0.9850,1.0000)"><tspan class="sb" font-size="115.7" x="-1.4" y="0.1">(</tspan><tspan class="sb" font-size="120.9" x="35.9" y="0.0">T</tspan><tspan class="sb" font-size="120.9" x="110.9" y="0.0">H</tspan><tspan class="sb" font-size="112.6" x="200.0" y="0.0">z</tspan><tspan class="sb" font-size="115.7" x="245.5" y="0.1">)</tspan></text>
<text class="ar" font-size="100" transform="translate(1506.61,2343.38) scale(1.4416,1.4175)">→</text>
<text transform="translate(132.50,1421.80) rotate(-90) scale(1.0800,1.0000)"><tspan class="sbi" font-size="141.5" x="0.6" y="1.5">N</tspan><tspan class="sbi" font-size="141.6" x="97.5" y="1.1">S</tspan><tspan class="sbi" font-size="140.8" x="157.8" y="1.0">D</tspan></text>
<text transform="translate(132.50,1115.20) rotate(-90) scale(1.0000,1.0000)"><tspan class="sr" font-size="124.8" x="0.4" y="-2.8" stroke="#000" stroke-width="1.5">(</tspan><tspan class="sb" font-size="131.5" x="42.2" y="-3.5">V</tspan><tspan class="sb" font-size="89.2" x="132.9" y="-40.1">2</tspan><tspan> </tspan><tspan class="sb" font-size="146.7" x="201.5" y="-0.7">s</tspan><tspan class="sr" font-size="124.8" x="263.7" y="-2.8" stroke="#000" stroke-width="1.5">)</tspan></text>
<text class="ar" font-size="100" transform="translate(135.45,777.22) rotate(-90) scale(1.4294,1.3848)">→</text>
</g>
</svg></body></html>
